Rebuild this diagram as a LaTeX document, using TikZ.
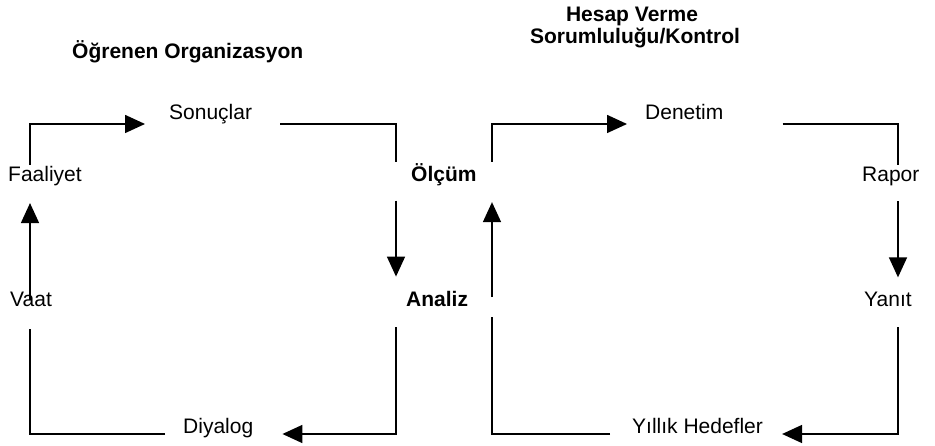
\documentclass[tikz,border=0pt]{standalone}
\usepackage{fontspec}
\setmainfont{Liberation Sans}
\usetikzlibrary{arrows.meta}
\begin{document}
\begin{tikzpicture}[x=1pt,y=1pt,
 lbl/.style={inner sep=0pt,anchor=base west,font=\fontsize{21}{25}\selectfont},
 head/.style={lbl,font=\fontsize{21}{25}\selectfont\bfseries},
 link/.style={line width=1.6pt},
 line/.style={link,-{Triangle[length=20pt,width=18pt]}}]
\useasboundingbox (0,0) rectangle (935,-446);
\coordinate (lt) at (30,-124);
\coordinate (lm) at (396,-124);
\coordinate (rm) at (492,-124);
\coordinate (rt) at (898,-124);
\coordinate (bot) at (0,-434);
\node[head] (org) at (72,-59) {Öğrenen Organizasyon};
\node[head,anchor=base] (hes) at (632,-22) {Hesap Verme};
\node[head,anchor=base] (sor) at (635,-44) {Sorumluluğu/Kontrol};
\node[lbl] (son) at (169,-120) {Sonuçlar};
\node[lbl] (faa) at (8,-182) {Faaliyet};
\node[head] (olc) at (411,-182) {Ölçüm};
\node[lbl] (vaat) at (10,-307) {Vaat};
\node[head] (anl) at (406,-307) {Analiz};
\node[lbl] (diy) at (183,-433) {Diyalog};
\node[lbl] (den) at (645,-120) {Denetim};
\node[lbl] (rap) at (862,-182) {Rapor};
\node[lbl] (yan) at (864,-307) {Yanıt};
\node[lbl] (yil) at (632,-433) {Yıllık Hedefler};
\draw[line,shorten <=1.5pt,shorten >=24pt] (faa.north -| lt) -- (lt) -- (son.west |- lt);
\draw[link,shorten <=28pt,shorten >=2pt] (son.east |- lm) -- (lm) -- (olc.north -| lm);
\draw[line,shorten <=14pt,shorten >=15pt] (olc.south -| lm) -- (anl.north -| lm);
\draw[line,shorten <=20pt,shorten >=29pt] (anl.south -| lm) -- (lm |- bot) -- (diy.east |- bot);
\draw[link,shorten <=18pt,shorten >=22pt] (diy.west |- bot) -- (lt |- bot) -- (vaat.south -| lt);
\draw[line,shorten >=16.5pt] (vaat.center -| lt) -- (faa.south -| lt);
\draw[line,shorten <=2pt,shorten >=18pt] (olc.north -| rm) -- (rm) -- (den.west |- rm);
\draw[link,shorten <=59pt,shorten >=2pt] (den.east |- rt) -- (rt) -- (rap.north -| rt);
\draw[line,shorten <=14.5pt,shorten >=15pt] (rap.south -| rt) -- (yan.north -| rt);
\draw[line,shorten <=20pt,shorten >=19pt] (yan.south -| rt) -- (rt |- bot) -- (yil.east |- bot);
\draw[link,shorten <=22pt,shorten >=10pt] (yil.west |- bot) -- (rm |- bot) -- (anl.south -| rm);
\draw[line,shorten <=2.4pt,shorten >=15.6pt] (anl.center -| rm) -- (olc.south -| rm);
\end{tikzpicture}
\end{document}
